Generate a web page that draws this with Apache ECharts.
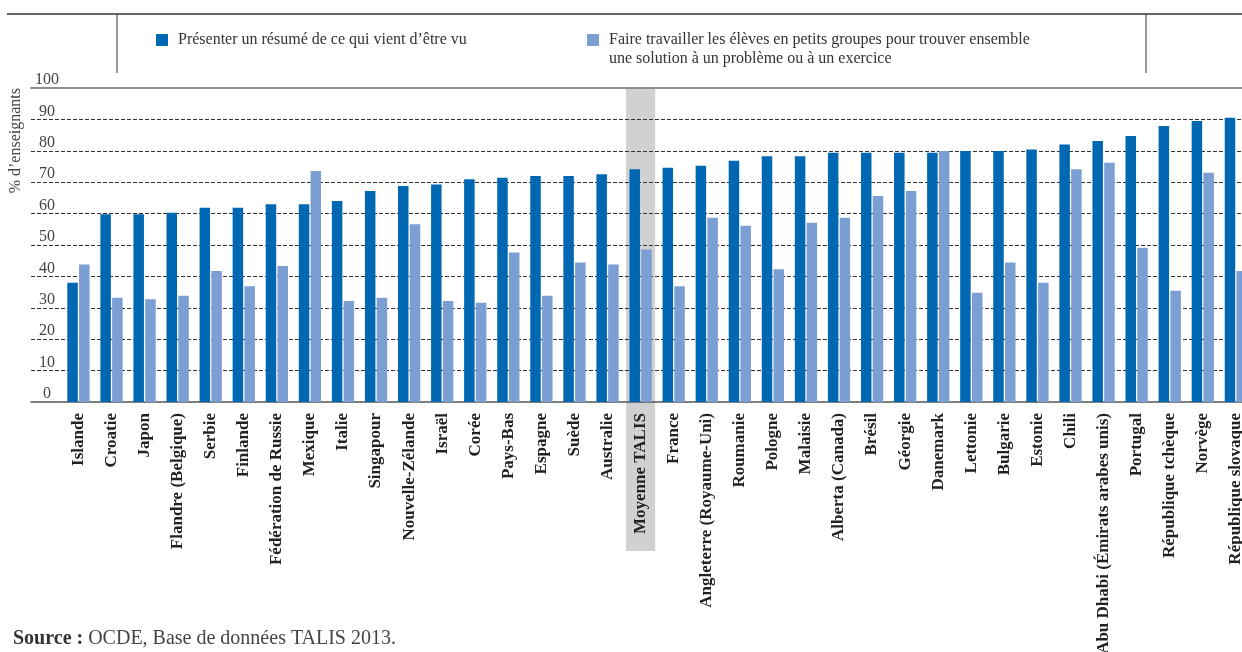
<!DOCTYPE html>
<html>
<head>
<meta charset="utf-8">
<script src="https://cdn.jsdelivr.net/npm/echarts@6/dist/echarts.min.js"></script>
<style>
html,body{margin:0;padding:0;background:#fff;}
#chart{width:1242px;height:652px;}
</style>
</head>
<body>
<div id="chart"></div>
<script>
const categories = ["Islande","Croatie","Japon","Flandre (Belgique)","Serbie","Finlande","Fédération de Russie","Mexique","Italie","Singapour","Nouvelle-Zélande","Israël","Corée","Pays-Bas","Espagne","Suède","Australie","Moyenne TALIS","France","Angleterre (Royaume-Uni)","Roumanie","Pologne","Malaisie","Alberta (Canada)","Brésil","Géorgie","Danemark","Lettonie","Bulgarie","Estonie","Chili","Abu Dhabi (Émirats arabes unis)","Portugal","République tchèque","Norvège","République slovaque"];
const seriesNames = ["Présenter un résumé de ce qui vient d’être vu","Faire travailler les élèves en petits groupes pour trouver ensemble\nune solution à un problème ou à un exercice"];
const summaryValues = [38.0,59.8,59.8,60.3,61.9,61.9,63.0,63.0,64.0,67.2,68.8,69.3,70.9,71.4,72.0,72.0,72.5,74.1,74.6,75.2,76.8,78.3,78.3,79.4,79.4,79.4,79.4,79.9,79.9,80.4,82.0,83.1,84.7,87.9,89.5,90.5];
const groupValues = [43.8,33.2,32.7,33.8,41.7,36.9,43.3,73.6,32.2,33.2,56.6,32.2,31.6,47.6,33.8,44.4,43.8,48.6,36.9,58.7,56.1,42.3,57.1,58.7,65.6,67.2,79.9,34.8,44.4,38.0,74.1,76.2,49.1,35.4,73.0,41.7];
const highlightCategory = "Moyenne TALIS";
const yAxisTitle = "% d’enseignants";
const sourceBold = "Source :";
const sourceText = "OCDE, Base de données TALIS 2013.";

const FONT = "'Liberation Serif', 'DejaVu Serif', serif";
const DARK = "#0067b3";
const LIGHT = "#7b9ed3";

const chart = echarts.init(document.getElementById('chart'), null, {renderer:'canvas'});

const baseGraphics = [
  {id:'topline', type:'line', shape:{x1:7,y1:14,x2:1242,y2:14}, style:{stroke:'#333',lineWidth:1.5}, silent:true},
  {id:'vl1', type:'line', shape:{x1:117,y1:14,x2:117,y2:73}, style:{stroke:'#333',lineWidth:1}, silent:true},
  {id:'vl2', type:'line', shape:{x1:1146,y1:14,x2:1146,y2:73}, style:{stroke:'#333',lineWidth:1}, silent:true},
  {id:'ytitle', type:'text', x:16, y:88, rotation:Math.PI/2, silent:true,
    style:{text:yAxisTitle, font:"16px " + FONT, fill:'#444', align:'right', verticalAlign:'middle'}}
];

const option = {
  animation:false,
  backgroundColor:'#fff',
  title:{
    left:8, top:624,
    text:'{b|' + sourceBold + '} {r|' + sourceText + '}',
    textStyle:{rich:{
      b:{fontFamily:FONT, fontWeight:'bold', fontSize:20, color:'#333'},
      r:{fontFamily:FONT, fontWeight:'normal', fontSize:20, color:'#444'}
    }}
  },
  legend:[
    {data:[{name:seriesNames[0]}], left:156, top:30.5, padding:0, itemWidth:12, itemHeight:12, icon:'rect', selectedMode:false,
     textStyle:{fontFamily:FONT, fontSize:16, color:'#333', lineHeight:19, padding:[0,0,0,5]}},
    {data:[{name:seriesNames[1]}], left:587, top:11.5, padding:0, itemWidth:12, itemHeight:12, icon:'rect', selectedMode:false,
     formatter: function (name) { return '\n' + name; },
     textStyle:{fontFamily:FONT, fontSize:16, color:'#333', lineHeight:19, padding:[0,0,0,5]}}
  ],
  grid:[
    {left:31, right:0, top:88, bottom:250, outerBoundsMode:'none', containLabel:false},
    {left:61.9, width:1190.5, top:88, bottom:250, outerBoundsMode:'none', containLabel:false}
  ],
  xAxis:[
    {gridIndex:0, type:'value', min:0, max:1, position:'bottom',
     axisLine:{show:true, onZero:false, lineStyle:{color:'#555', width:1.5}}, axisTick:{show:false}, axisLabel:{show:false}, splitLine:{show:false}},
    {gridIndex:0, type:'value', min:0, max:1, position:'top',
     axisLine:{show:true, onZero:false, lineStyle:{color:'#8c8c8c', width:2}}, axisTick:{show:false}, axisLabel:{show:false}, splitLine:{show:false}},
    {gridIndex:1, type:'category', data:categories, position:'bottom',
     axisLine:{show:false}, axisTick:{show:false},
     axisLabel:{interval:0, rotate:90, margin:11, fontFamily:FONT, fontWeight:'bold', fontSize:17, color:'#222'}}
  ],
  yAxis:[
    {gridIndex:0, type:'value', min:0, max:100, interval:10,
     axisLine:{show:false}, axisTick:{show:false},
     axisLabel:{inside:true, margin:16, align:'center', verticalAlign:'bottom', fontFamily:FONT, fontSize:16, color:'#444'},
     splitLine:{show:true, showMinLine:false, showMaxLine:false, lineStyle:{color:'#333', type:[4,2], width:1}}},
    {gridIndex:1, type:'value', min:0, max:100, show:false}
  ],
  series:[
    {name:seriesNames[0], type:'bar', xAxisIndex:2, yAxisIndex:1, data:summaryValues, barWidth:10.5, barGap:'12%',
     itemStyle:{color:DARK}},
    {name:seriesNames[1], type:'bar', xAxisIndex:2, yAxisIndex:1, data:groupValues, barWidth:10.5, barGap:'12%',
     itemStyle:{color:LIGHT}}
  ],
  graphic: baseGraphics
};
chart.setOption(option);

const idx = categories.indexOf(highlightCategory);
const cx = chart.convertToPixel({xAxisIndex:2}, categories[idx]);
const step = chart.convertToPixel({xAxisIndex:2}, categories[1]) - chart.convertToPixel({xAxisIndex:2}, categories[0]);
const yTop = chart.convertToPixel({yAxisIndex:1}, 100);
chart.setOption({graphic: baseGraphics.concat([
  {id:'band', type:'rect', z:-1, silent:true,
   shape:{x:cx - step*0.44, y:yTop, width:step*0.88, height:551 - yTop},
   style:{fill:'#d1d1d3'}}
])});
</script>
</body>
</html>
